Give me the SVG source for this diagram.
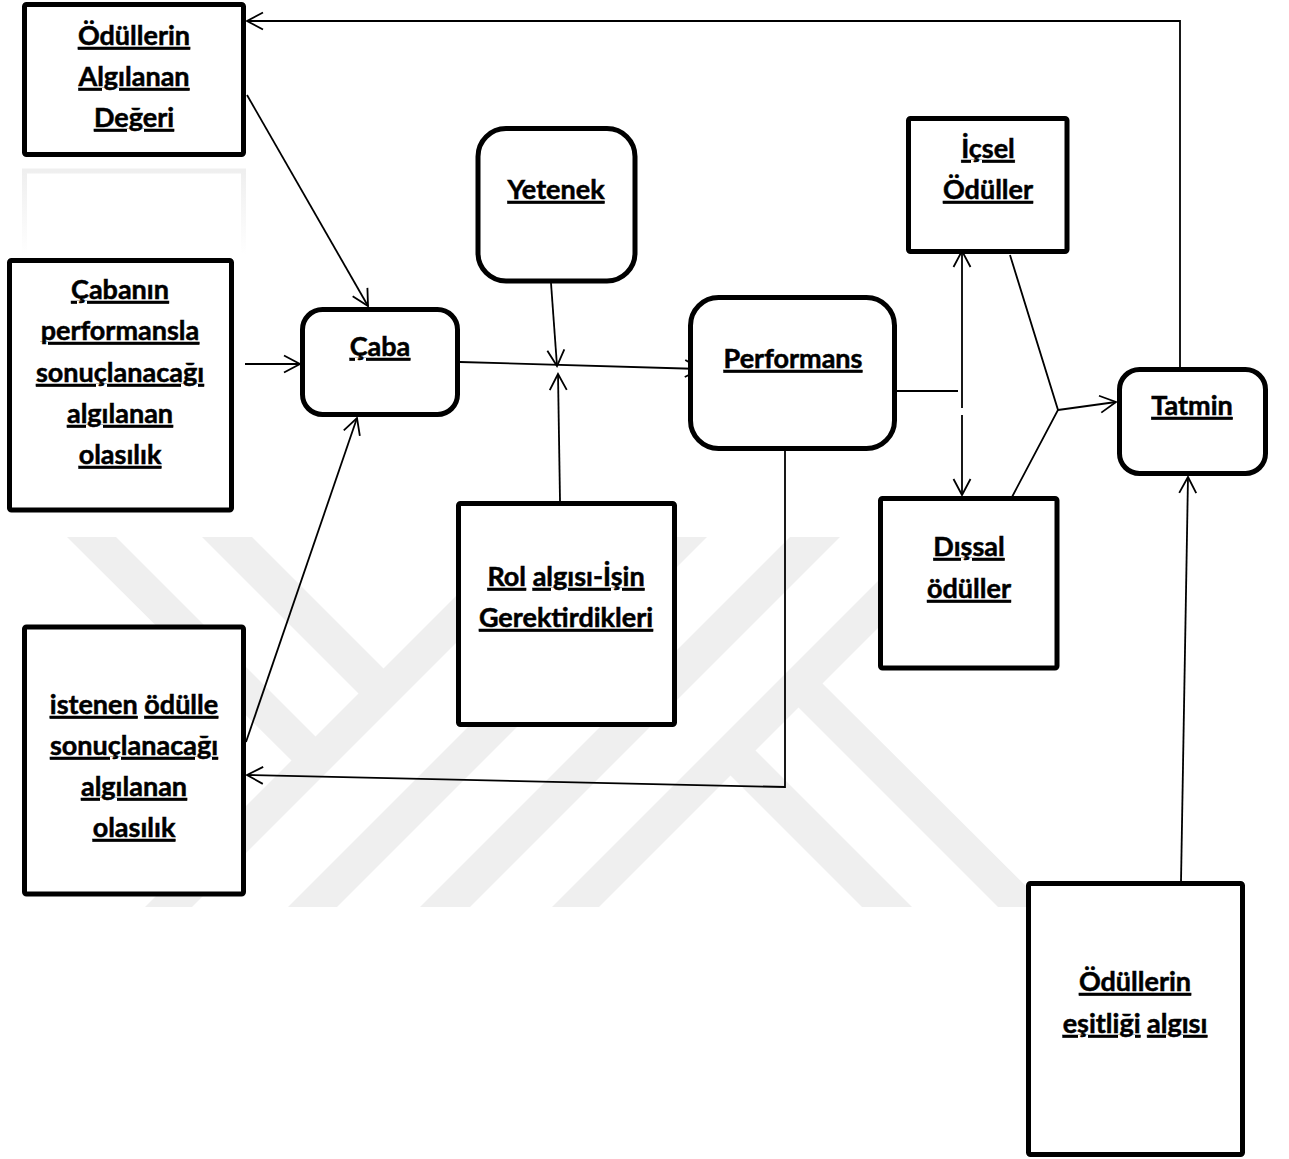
<svg xmlns="http://www.w3.org/2000/svg" width="1289" height="1159" viewBox="0 0 1289 1159">
<style>
.box{fill:#fff;stroke:#000;stroke-width:5;}
.wm{fill:#efefef;stroke:none;}
.c{fill:none;stroke:#000;stroke-width:1.8;}
.t{font-family:"Lato","Open Sans","Noto Sans",sans-serif;font-weight:bold;font-size:27px;fill:#000;stroke:#000;stroke-width:0.5;text-anchor:middle;}
.u{text-decoration:underline;text-decoration-thickness:2.5px;text-underline-offset:3px;}
</style>
<defs>
<marker id="arr" markerUnits="userSpaceOnUse" markerWidth="30" markerHeight="30" viewBox="-20 -15 30 30" refX="0" refY="0" orient="auto-start-reverse" overflow="visible">
<path d="M-16,-8.5 L0,0 L-16,8.5" fill="none" stroke="#000" stroke-width="1.8"/>
</marker>
<linearGradient id="fade" x1="0" y1="0" x2="0" y2="1">
<stop offset="0" stop-color="#efefef"/>
<stop offset="1" stop-color="#ffffff"/>
</linearGradient>
</defs>
<rect width="1289" height="1159" fill="#fff"/>
<g id="watermark">
<polygon class="wm" points="515,537 562,537 192,907 145,907"/>
<polygon class="wm" points="658,537 707,537 337,907 288,907"/>
<polygon class="wm" points="790,537 840,537 470,907 420,907"/>
<polygon class="wm" points="922,537 969,537 599,907 552,907"/>
<polygon class="wm" points="67,537 116,537 319,740 295,764"/>
<polygon class="wm" points="202,537 252,537 387,672 362,697"/>
<polygon class="wm" points="1047,907 998,907 795,704 819,680"/>
<polygon class="wm" points="912,907 862,907 727,772 752,747"/>
</g>
<g id="reflection">
<path d="M24.5,255 L24.5,171 L243.5,171 L243.5,255" fill="none" stroke="url(#fade)" stroke-width="5"/>
</g>
<g id="connectors">
<path class="c" d="M1180,369 L1180,21 L247,21" marker-end="url(#arr)"/>
<path class="c" d="M247,95 L368,306" marker-end="url(#arr)"/>
<path class="c" d="M245,364 L300,364" marker-end="url(#arr)"/>
<path class="c" d="M246,742 L357,418" marker-end="url(#arr)"/>
<path class="c" d="M460,362 L701,369" marker-end="url(#arr)"/>
<path class="c" d="M551,283 L557,366" marker-end="url(#arr)"/>
<path class="c" d="M560,501 L558,374" marker-end="url(#arr)"/>
<path class="c" d="M785,451 L785,787 L247,775" marker-end="url(#arr)"/>
<path class="c" d="M897,391 L958,391"/>
<path class="c" d="M962,408 L962,251" marker-end="url(#arr)"/>
<path class="c" d="M962,415 L962,495" marker-end="url(#arr)"/>
<path class="c" d="M1010,255 L1058,410 L1012,497"/>
<path class="c" d="M1058,410 L1116,402" marker-end="url(#arr)"/>
<path class="c" d="M1181,882 L1188,477" marker-end="url(#arr)"/>
</g>
<g id="n-odul-deger">
<rect class="box" x="24.5" y="4.5" width="219" height="150" rx="2"/>
<text class="t" x="134" y="45"><tspan class="u">Ödüllerin</tspan></text>
<text class="t" x="134" y="86"><tspan class="u">Algılanan</tspan></text>
<text class="t" x="134" y="127"><tspan class="u">Değeri</tspan></text>
</g>
<g id="n-caba-perf">
<rect class="box" x="9.5" y="260.5" width="222" height="249.5" rx="2"/>
<text class="t" x="120" y="299"><tspan class="u">Çabanın</tspan></text>
<text class="t" x="120" y="340"><tspan class="u">performansla</tspan></text>
<text class="t" x="120" y="382"><tspan class="u">sonuçlanacağı</tspan></text>
<text class="t" x="120" y="423"><tspan class="u">algılanan</tspan></text>
<text class="t" x="120" y="464"><tspan class="u">olasılık</tspan></text>
</g>
<g id="n-caba">
<rect class="box" x="302.5" y="309.5" width="155" height="105" rx="20"/>
<text class="t" x="380" y="356"><tspan class="u">Çaba</tspan></text>
</g>
<g id="n-yetenek">
<rect class="box" x="478" y="128.5" width="157" height="152.5" rx="28"/>
<text class="t" x="556" y="199"><tspan class="u">Yetenek</tspan></text>
</g>
<g id="n-performans">
<rect class="box" x="690.5" y="297.5" width="204" height="151" rx="28"/>
<text class="t" x="793" y="368"><tspan class="u">Performans</tspan></text>
</g>
<g id="n-icsel">
<rect class="box" x="908.5" y="118.5" width="158.5" height="133" rx="2"/>
<text class="t" x="988" y="158"><tspan class="u">İçsel</tspan></text>
<text class="t" x="988" y="199"><tspan class="u">Ödüller</tspan></text>
</g>
<g id="n-dissal">
<rect class="box" x="880.5" y="498.5" width="176.5" height="169.5" rx="2"/>
<text class="t" x="969" y="556"><tspan class="u">Dışsal</tspan></text>
<text class="t" x="969" y="598"><tspan class="u">ödüller</tspan></text>
</g>
<g id="n-tatmin">
<rect class="box" x="1119.5" y="369.5" width="146" height="104" rx="20"/>
<text class="t" x="1192" y="415"><tspan class="u">Tatmin</tspan></text>
</g>
<g id="n-rol">
<rect class="box" x="458.5" y="503.5" width="216" height="221" rx="2"/>
<text class="t" x="566" y="586"><tspan class="u">Rol</tspan> <tspan class="u">algısı-İşin</tspan></text>
<text class="t" x="566" y="627"><tspan class="u">Gerektirdikleri</tspan></text>
</g>
<g id="n-istenen">
<rect class="box" x="24.5" y="627" width="219" height="267" rx="2"/>
<text class="t" x="134" y="714"><tspan class="u">istenen</tspan> <tspan class="u">ödülle</tspan></text>
<text class="t" x="134" y="755"><tspan class="u">sonuçlanacağı</tspan></text>
<text class="t" x="134" y="796"><tspan class="u">algılanan</tspan></text>
<text class="t" x="134" y="837"><tspan class="u">olasılık</tspan></text>
</g>
<g id="n-esitlik">
<rect class="box" x="1028.5" y="883.5" width="214" height="271" rx="2"/>
<text class="t" x="1135" y="991"><tspan class="u">Ödüllerin</tspan></text>
<text class="t" x="1135" y="1033"><tspan class="u">eşitliği</tspan> <tspan class="u">algısı</tspan></text>
</g>
</svg>
